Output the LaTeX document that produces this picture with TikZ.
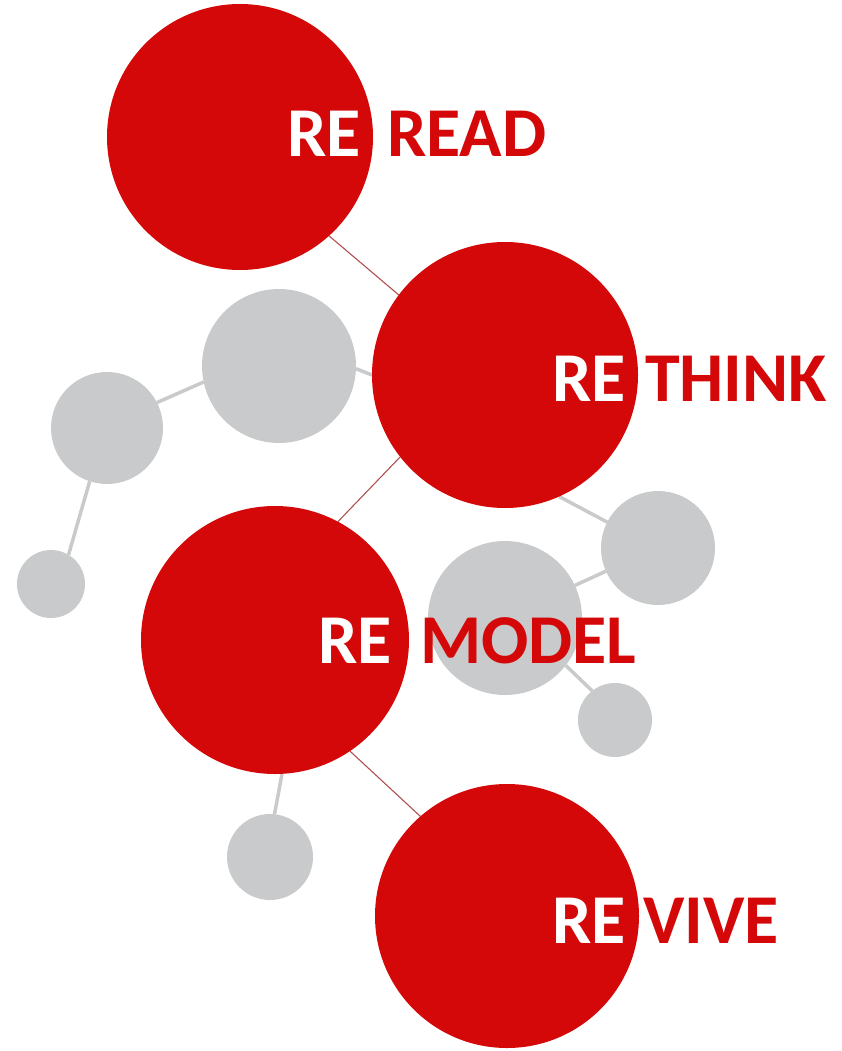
\documentclass[tikz,border=0pt]{standalone}
\usepackage{fontspec}
\setmainfont{Carlito}
\definecolor{rered}{RGB}{212,8,8}
\definecolor{regray}{RGB}{200,202,203}
\definecolor{relink}{RGB}{176,80,80}
\pgfdeclarelayer{bg}
\pgfsetlayers{bg,main}
\tikzset{
  redc/.style={circle,fill=rered,inner sep=0pt,outer sep=0pt},
  grayc/.style={circle,fill=regray,inner sep=0pt,outer sep=0pt},
  graylink/.style={draw=regray,line width=3.5pt},
  redlink/.style={draw=relink,line width=1.1pt},
  retext/.style={anchor=base west,inner sep=0pt,outer sep=0pt,text=white,font=\bfseries\fontsize{70}{84}\selectfont},
  wordtext/.style={anchor=base west,inner sep=0pt,outer sep=0pt,text=rered,font=\bfseries\fontsize{70}{84}\selectfont}
}
\begin{document}
\begin{tikzpicture}[x=1pt,y=-1pt]
\useasboundingbox (0,0) rectangle (842,1051);
% grey circles
\node[grayc,minimum size=154pt] (ga) at (279,366) {};
\node[grayc,minimum size=112pt] (gb) at (107,428) {};
\node[grayc,minimum size=68pt] (gc) at (51,584) {};
\node[grayc,minimum size=154pt] (gd) at (505,618) {};
\node[grayc,minimum size=114pt] (ge) at (658,548) {};
\node[grayc,minimum size=74pt] (gf) at (615,720) {};
\node[grayc,minimum size=86pt] (gg) at (270,857) {};
% red circles
\node[redc,minimum size=266pt] (read) at (240,137) {};
\node[redc,minimum size=266pt] (think) at (505,375) {};
\node[redc,minimum size=268pt] (model) at (275,640) {};
\node[redc,minimum size=264pt] (vive) at (507,916) {};
% connectors, behind the circles
\begin{pgfonlayer}{bg}
\path[graylink] (gb.27.5) -- (ga.192.6);
\path[graylink] (gb.252.5) -- (gc.59.6);
\path[graylink] (ga.-2) -- (think.180);
\path[graylink] (think.-66) -- (ge.153);
\path[graylink] (ge.204) -- (gd.25);
\path[graylink] (gd.-38) -- (gf.128);
\path[graylink] (model.-87.4) -- (gg.84.7);
\path[redlink] (read.-48.3) -- (think.143.6);
\path[redlink] (think.218.7) -- (model.62);
\path[redlink] (model.-56.7) -- (vive.131.6);
\end{pgfonlayer}
% texts
\node[retext] (t1a) at (287,157) {RE};
\node[wordtext] (t1b) at (387,157) {READ};
\node[retext] (t2a) at (552,401) {RE};
\node[wordtext] (t2b) at (645,401) {THINK};
\node[retext] (t3a) at (318,663) {RE};
\node[wordtext] (t3b) at (420,663) {MODEL};
\node[retext] (t4a) at (552,943) {RE};
\node[wordtext] (t4b) at (643,943) {VIVE};
\end{tikzpicture}
\end{document}
